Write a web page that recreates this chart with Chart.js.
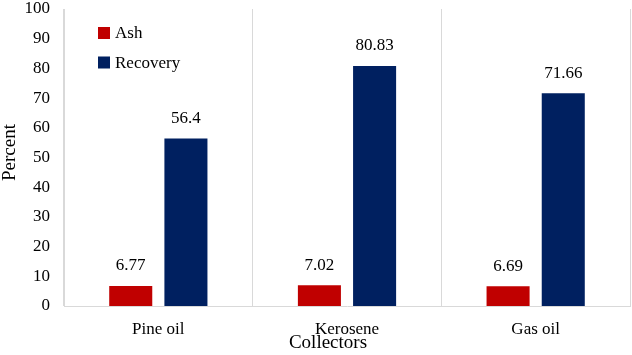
<!DOCTYPE html>
<html><head><meta charset="utf-8">
<script src="https://cdn.jsdelivr.net/npm/chart.js@4/dist/chart.umd.min.js"></script>
<style>html,body{margin:0;padding:0;background:#fff}#wrap{width:632px;height:355px}
.pre{position:absolute;left:-9999px;font-family:"Liberation Serif";font-size:16px}</style>
</head><body><div class="pre">Percent 0123456789 Ash Recovery</div><div id="wrap"><canvas id="c" width="632" height="355"></canvas></div>
<script>
const categories = ["Pine oil", "Kerosene", "Gas oil"];
const ashValues = [6.77, 7.02, 6.69];
const recoveryValues = [56.4, 80.83, 71.66];
const yTicks = [0, 10, 20, 30, 40, 50, 60, 70, 80, 90, 100];
const seriesNames = ["Ash", "Recovery"];
const xTitle = "Collectors";
const yTitle = "Percent";

const FONT = '"Liberation Serif", "Times New Roman", serif';

const labelPlugin = {
  id: 'valueLabels',
  afterDatasetsDraw(chart) {
    const ctx = chart.ctx;
    ctx.save();
    ctx.fillStyle = '#000';
    ctx.font = '17px ' + FONT;
    ctx.textAlign = 'center';
    ctx.textBaseline = 'middle';
    chart.data.datasets.forEach((ds, i) => {
      chart.getDatasetMeta(i).data.forEach((bar, j) => {
        ctx.fillText(String(ds.data[j]), bar.x, bar.y - 20);
      });
    });
    ctx.restore();
  }
};

const legendPlugin = {
  id: 'insideLegend',
  afterDraw(chart) {
    const ctx = chart.ctx;
    const a = chart.chartArea;
    ctx.save();
    ctx.font = '17px ' + FONT;
    ctx.textBaseline = 'middle';
    ctx.textAlign = 'left';
    chart.data.datasets.forEach((ds, i) => {
      const y = a.top + 24 + i * 29.5;
      ctx.fillStyle = ds.backgroundColor;
      ctx.fillRect(a.left + 34, y - 6, 12, 12);
      ctx.fillStyle = '#000';
      ctx.fillText(ds.label, a.left + 51, y + 1);
    });
    ctx.restore();
  }
};

const titlesPlugin = {
  id: 'axisTitles',
  afterDraw(chart) {
    const ctx = chart.ctx;
    const a = chart.chartArea;
    ctx.save();
    ctx.fillStyle = '#000';
    ctx.textAlign = 'center';
    ctx.textBaseline = 'middle';
    ctx.font = '19px ' + FONT;
    ctx.fillText(xTitle, (a.left + a.right) / 2 - 19, chart.height - 12);
    ctx.translate(10, (a.top + a.bottom) / 2 - 5);
    ctx.rotate(-Math.PI / 2);
    ctx.font = '19px ' + FONT;
    ctx.fillText(yTitle, 0, 0);
    ctx.restore();
  }
};

function build() {
  new Chart(document.getElementById('c'), {
    type: 'bar',
    data: {
      labels: categories,
      datasets: [
        { label: seriesNames[0], data: ashValues, backgroundColor: '#C00000', categoryPercentage: 0.585, barPercentage: 0.78 },
        { label: seriesNames[1], data: recoveryValues, backgroundColor: '#002060', categoryPercentage: 0.585, barPercentage: 0.78 }
      ]
    },
    options: {
      responsive: false,
      animation: false,
      layout: { padding: { top: 9, right: 2, left: 0, bottom: 0 } },
      plugins: { legend: { display: false }, tooltip: { enabled: false } },
      scales: {
        x: {
          grid: { display: true, offset: true, color: '#d9d9d9', drawTicks: false, lineWidth: 1 },
          border: { display: true, color: '#d9d9d9' },
          ticks: { color: '#000', font: { family: FONT, size: 17 }, padding: 13 },
          title: { display: false },
          afterFit(s) { s.height = 49; s.paddingLeft = 0; s.paddingRight = 0; }
        },
        y: {
          min: 0, max: 100,
          afterBuildTicks(s) { s.ticks = yTicks.map(v => ({ value: v })); },
          grid: { display: false, drawTicks: false },
          border: { display: true, color: '#d9d9d9' },
          ticks: { color: '#000', font: { family: FONT, size: 17 }, padding: 14 },
          title: { display: false },
          afterFit(s) { s.width = 64; s.paddingTop = 0; s.paddingBottom = 0; }
        }
      }
    },
    plugins: [labelPlugin, legendPlugin, titlesPlugin]
  });
}

const loads = [document.fonts.load('17px "Liberation Serif"'), document.fonts.load('19px "Liberation Serif"')];
Promise.all(loads).then(() => document.fonts.ready).then(build, build);
</script></body></html>
